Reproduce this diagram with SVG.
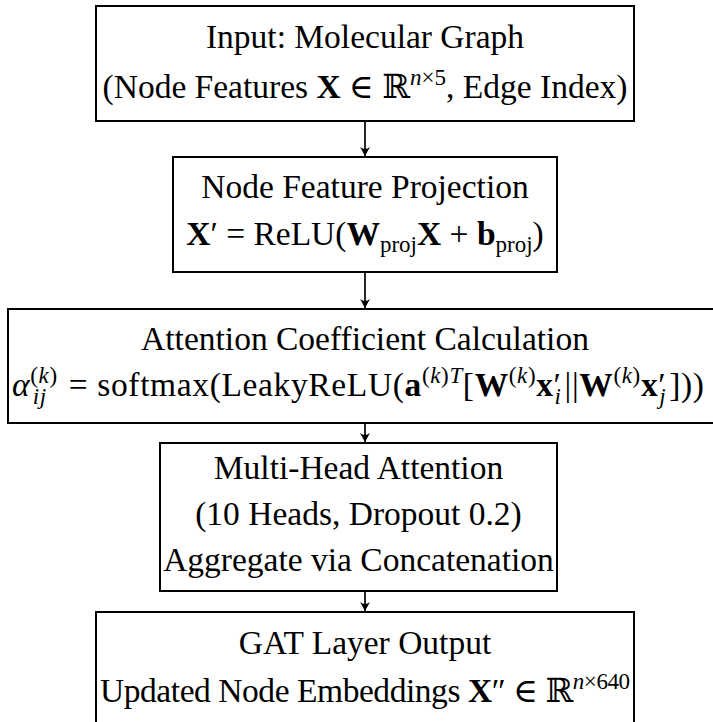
<svg xmlns="http://www.w3.org/2000/svg" width="713" height="722" viewBox="0 0 713 722">
<style>
.box{fill:#fff;stroke:#000;stroke-width:2}
.t{font-family:"Liberation Serif","DejaVu Serif",serif;font-size:33.5px;fill:#000;text-anchor:middle}
.b{font-weight:bold}
.it{font-style:italic}
.s{font-size:23px}
.c{stroke:#000;stroke-width:1.7;fill:none}
</style>
<defs>
<marker id="ah" markerUnits="userSpaceOnUse" markerWidth="14" markerHeight="14" refX="0" refY="0" viewBox="-11 -7 14 14" orient="auto">
<path d="M0,0 L-9,-5 Q-5,0 -9,5 Z" fill="#000"/>
</marker>
</defs>
<rect width="713" height="722" fill="#fff"/>
<g id="connectors">
<line class="c" x1="365" y1="121" x2="365" y2="156" marker-end="url(#ah)"/>
<line class="c" x1="365" y1="272" x2="365" y2="308" marker-end="url(#ah)"/>
<line class="c" x1="365" y1="423" x2="365" y2="442" marker-end="url(#ah)"/>
<line class="c" x1="365" y1="591" x2="365" y2="611" marker-end="url(#ah)"/>
</g>
<g id="input">
<rect class="box" x="96" y="6" width="538" height="115"/>
<text class="t" x="365" y="48">Input: Molecular Graph</text>
<text class="t" x="365" y="98">(Node Features <tspan class="b">X</tspan> ∈ ℝ<tspan class="s" dy="-13"><tspan class="it">n</tspan>×5</tspan><tspan dy="13">, Edge Index)</tspan></text>
</g>
<g id="projection">
<rect class="box" x="173" y="157" width="384" height="115"/>
<text class="t" x="365" y="198">Node Feature Projection</text>
<text class="t" x="365" y="245"><tspan class="b">X</tspan>′ = ReLU(<tspan class="b">W</tspan><tspan class="s" dy="7">proj</tspan><tspan class="b" dy="-7">X</tspan> + <tspan class="b">b</tspan><tspan class="s" dy="7">proj</tspan><tspan dy="-7">)</tspan></text>
</g>
<g id="attention">
<rect class="box" x="8" y="309" width="714" height="114"/>
<text class="t" x="365" y="350">Attention Coefficient Calculation</text>
<text class="t" x="358" y="396" textLength="692"><tspan class="it">α</tspan><tspan class="s" dy="-13">(<tspan class="it">k</tspan>)</tspan><tspan class="s it" dx="-25" dy="21">ij</tspan><tspan dx="13" dy="-8"> = softmax(LeakyReLU(</tspan><tspan class="b">a</tspan><tspan class="s" dy="-13">(<tspan class="it">k</tspan>)<tspan class="it">T</tspan></tspan><tspan dy="13">[</tspan><tspan class="b">W</tspan><tspan class="s" dy="-13">(<tspan class="it">k</tspan>)</tspan><tspan class="b" dy="13">x</tspan><tspan>′</tspan><tspan class="s it" dx="-7" dy="8">i</tspan><tspan dx="3" dy="-8">||</tspan><tspan class="b">W</tspan><tspan class="s" dy="-13">(<tspan class="it">k</tspan>)</tspan><tspan class="b" dy="13">x</tspan><tspan>′</tspan><tspan class="s it" dx="-7" dy="8">j</tspan><tspan dx="3" dy="-8">]))</tspan></text>
</g>
<g id="multihead">
<rect class="box" x="160" y="443" width="397" height="148"/>
<text class="t" x="358.5" y="479">Multi-Head Attention</text>
<text class="t" x="358.5" y="525">(10 Heads, Dropout 0.2)</text>
<text class="t" x="358.5" y="571">Aggregate via Concatenation</text>
</g>
<g id="output">
<rect class="box" x="96" y="612" width="538" height="115"/>
<text class="t" x="365" y="654">GAT Layer Output</text>
<text class="t" x="365" y="702" textLength="530">Updated Node Embeddings <tspan class="b">X</tspan>″ ∈ ℝ<tspan class="s" dy="-13"><tspan class="it">n</tspan>×640</tspan></text>
</g>
</svg>
